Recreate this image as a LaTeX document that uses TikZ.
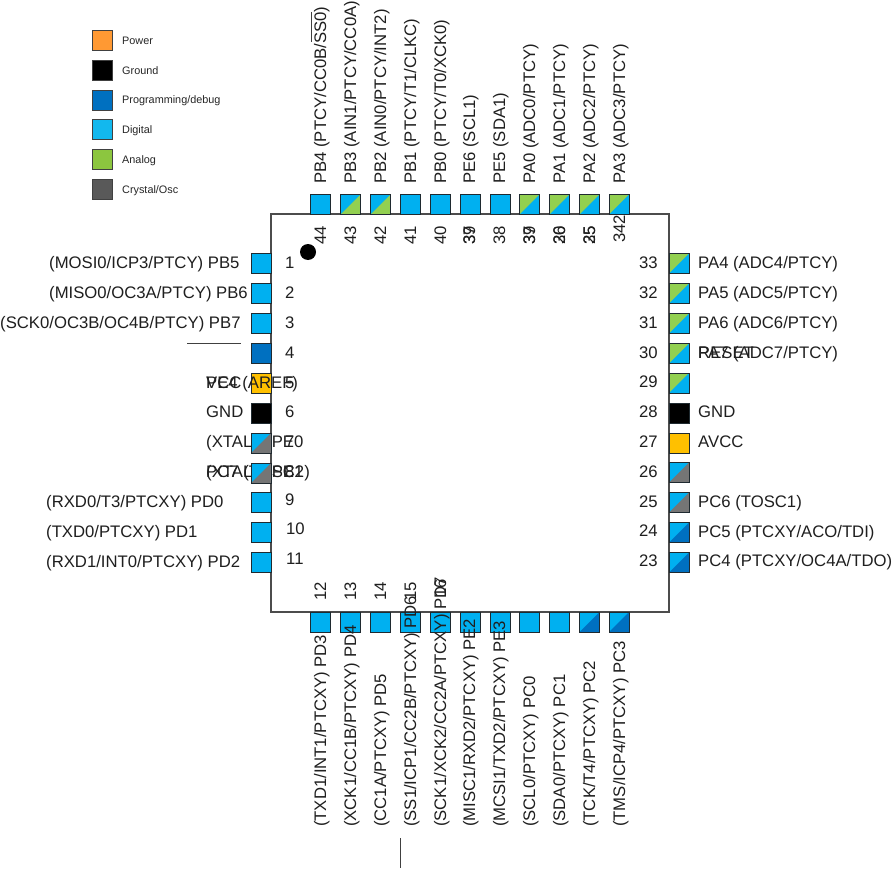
\documentclass[tikz,border=0pt]{standalone}
\usepackage{fontspec}
\setmainfont{Liberation Sans}
\definecolor{cpower}{HTML}{FF9933}
\definecolor{cvcc}{HTML}{FFC000}
\definecolor{cprog}{HTML}{0070C0}
\definecolor{cdig}{HTML}{00B0F0}
\definecolor{cdigl}{HTML}{12B8EE}
\definecolor{cana}{HTML}{92D050}
\definecolor{canal}{HTML}{8CC63F}
\definecolor{cxtal}{HTML}{757575}
\definecolor{cxtall}{HTML}{595959}
\definecolor{cedge}{HTML}{1F2A30}
\tikzset{
  pinbox/.style={draw=cedge,line width=1pt,minimum size=20pt,inner sep=0pt,outer sep=0pt},
  lab/.style={font=\fontsize{16.7}{19}\selectfont,inner sep=0pt,text=black!88,anchor=base west},
  vlab/.style={lab,rotate=90},
  leg/.style={font=\fontsize{10.85}{12}\selectfont,inner sep=0pt,text=black!85,anchor=base west},
  legbox/.style={draw=black!75,line width=1pt,minimum size=20pt,inner sep=0pt,outer sep=0pt},
  rulex/.style={line width=0.8pt,draw=black!75}
}
\newcommand{\pinp}[5]{\node[pinbox,fill=#4,path picture={\fill[#5] (path picture bounding box.south west) -| (path picture bounding box.north east) -- cycle;}] (#1) at (#2,#3) {};}
\newcommand{\hl}[4]{\node[lab] (#1) at (#2,#3+5.7) {#4};}
\newcommand{\vl}[4]{\node[vlab] (#1) at (#2+6,#3) {#4};}
\begin{document}
\begin{tikzpicture}[x=1pt,y=-1pt]
\useasboundingbox (0,0) rectangle (893,893);
\fill[white] (0,0) rectangle (893,893);
% legend
\foreach \n/\yy/\c/\t in {a/40.6/cpower/Power,b/70.4/black/Ground,c/100.2/cprog/Programming\slash debug,d/130/cdigl/Digital,e/159.8/canal/Analog,f/189.6/cxtall/Crystal\slash Osc}{
  \node[legbox,fill=\c] (leg\n) at (102,\yy) {};
  \node[leg] (legt\n) at (122,\yy+3.8) {\t};
}
% chip
\node[draw=black!70,line width=1.2pt,minimum size=398pt,inner sep=0pt,outer sep=0pt] (chip) at (470,413) {};
% labels hidden by pins
\hl{l7}{206}{442}{(XTAL1) PE0}
\hl{l8a}{206}{472}{(XTAL2) PE1}
\hl{l8b}{206}{472}{PC7 (TOSC2)}
% pins left
\pinp{p1}{261}{263.5}{cdig}{cdig}
\pinp{p2}{261}{293.5}{cdig}{cdig}
\pinp{p3}{261}{323.5}{cdig}{cdig}
\pinp{p4}{261}{353}{cprog}{cprog}
\pinp{p5}{261}{383}{cvcc}{cvcc}
\pinp{p6}{261}{413}{black}{black}
\pinp{p7}{261}{443}{cdig}{cxtal}
\pinp{p8}{261}{473}{cdig}{cxtal}
\pinp{p9}{261}{502.5}{cdig}{cdig}
\pinp{p10}{261}{532.5}{cdig}{cdig}
\pinp{p11}{261}{562.5}{cdig}{cdig}
% pins bottom
\pinp{p12}{320.5}{622}{cdig}{cdig}
\pinp{p13}{350.5}{622}{cdig}{cdig}
\pinp{p14}{380.5}{622}{cdig}{cdig}
\pinp{p15}{410.5}{622}{cdig}{cdig}
\pinp{p16}{440}{622}{cdig}{cdig}
\pinp{p17}{470}{622}{cdig}{cdig}
\pinp{p18}{500}{622}{cdig}{cdig}
\pinp{p19}{529.5}{622}{cdig}{cdig}
\pinp{p20}{559.5}{622}{cdig}{cdig}
\pinp{p21}{589.5}{622}{cdig}{cprog}
\pinp{p22}{619}{622}{cdig}{cprog}
% pins right
\pinp{p23}{679}{562.5}{cdig}{cprog}
\pinp{p24}{679}{532.5}{cdig}{cprog}
\pinp{p25}{679}{502.5}{cdig}{cxtal}
\pinp{p26}{679}{472.5}{cdig}{cxtal}
\pinp{p27}{679}{443}{cvcc}{cvcc}
\pinp{p28}{679}{413}{black}{black}
\pinp{p29}{679}{383}{cana}{cdig}
\pinp{p30}{679}{353.5}{cana}{cdig}
\pinp{p31}{679}{323.5}{cana}{cdig}
\pinp{p32}{679}{293.5}{cana}{cdig}
\pinp{p33}{679}{263.5}{cana}{cdig}
% pins top
\pinp{p34}{619}{204.5}{cana}{cdig}
\pinp{p35}{589.5}{204.5}{cana}{cdig}
\pinp{p36}{559.5}{204.5}{cana}{cdig}
\pinp{p37}{529.5}{204.5}{cana}{cdig}
\pinp{p38}{500}{204.5}{cdig}{cdig}
\pinp{p39}{470}{204.5}{cdig}{cdig}
\pinp{p40}{440}{204.5}{cdig}{cdig}
\pinp{p41}{410.5}{204.5}{cdig}{cdig}
\pinp{p42}{380.5}{204.5}{cdig}{cana}
\pinp{p43}{350.5}{204.5}{cdig}{cana}
\pinp{p44}{320.5}{204.5}{cdig}{cdig}
% index dot
\node[circle,fill=black,minimum size=16pt,inner sep=0pt] (dot) at (308,252) {};
% left labels
\hl{l1}{49}{263}{(MOSI0/ICP3/PTCY) PB5}
\hl{l2}{49}{293}{(MISO0/OC3A/PTCY) PB6}
\hl{l3}{0}{323}{(SCK0/OC3B/OC4B/PTCY) PB7}
\hl{l5a}{206}{383}{VCC}
\hl{l5b}{206}{383}{PE4 (AREF)}
\hl{l6}{206}{412}{GND}
\hl{l9}{46}{502}{(RXD0/T3/PTCXY) PD0}
\hl{l10}{46}{532}{(TXD0/PTCXY) PD1}
\hl{l11}{46}{562}{(RXD1/INT0/PTCXY) PD2}
% right labels
\hl{r33}{698}{263}{PA4 (ADC4/PTCY)}
\hl{r32}{698}{293}{PA5 (ADC5/PTCY)}
\hl{r31}{698}{323}{PA6 (ADC6/PTCY)}
\hl{r30a}{698}{353}{PA7 (ADC7/PTCY)}
\hl{r30b}{698}{353}{RESET}
\hl{r28}{698}{412}{GND}
\hl{r27}{698}{442}{AVCC}
\hl{r25}{698}{502}{PC6 (TOSC1)}
\hl{r24}{698}{532}{PC5 (PTCXY/ACO/TDI)}
\hl{r23}{698}{561}{PC4 (PTCXY/OC4A/TDO)}
% top labels
\vl{t44}{320}{184}{PB4 (PTCY/CC0B/SS0)}
\vl{t43}{350}{184}{PB3 (AIN1/PTCY/CC0A)}
\vl{t42}{380}{184}{PB2 (AIN0/PTCY/INT2)}
\vl{t41}{410}{184}{PB1 (PTCY/T1/CLKC)}
\vl{t40}{440}{184}{PB0 (PTCY/T0/XCK0)}
\vl{t39}{469}{184}{PE6 (SCL1)}
\vl{t38}{499}{184}{PE5 (SDA1)}
\vl{t37}{529}{184}{PA0 (ADC0/PTCY)}
\vl{t36}{559}{184}{PA1 (ADC1/PTCY)}
\vl{t35}{589}{184}{PA2 (ADC2/PTCY)}
\vl{t34}{619}{184}{PA3 (ADC3/PTCY)}
% bottom labels
\vl{b12}{320}{827}{(TXD1/INT1/PTCXY) PD3}
\vl{b13}{350}{827}{(XCK1/CC1B/PTCXY) PD4}
\vl{b14}{380}{827}{(CC1A/PTCXY) PD5}
\vl{b15}{410}{827}{(SS1/ICP1/CC2B/PTCXY) PD6}
\vl{b16}{440}{827}{(SCK1/XCK2/CC2A/PTCXY) PD7}
\vl{b17}{469}{827}{(MISC1/RXD2/PTCXY) PE2}
\vl{b18}{499}{827}{(MCSI1/TXD2/PTCXY) PE3}
\vl{b19}{529}{827}{(SCL0/PTCXY) PC0}
\vl{b20}{559}{827}{(SDA0/PTCXY) PC1}
\vl{b21}{589}{827}{(TCK/T4/PTCXY) PC2}
\vl{b22}{619}{827}{(TMS/ICP4/PTCXY) PC3}
% pin numbers, left
\hl{n1}{285}{263}{1}
\hl{n2}{285}{293}{2}
\hl{n3}{285}{323}{3}
\hl{n4}{285}{353}{4}
\hl{n5}{285}{383}{5}
\hl{n6}{285}{412}{6}
\hl{n7}{285}{442}{7}
\hl{n8}{285}{472}{8}
\hl{n9}{285}{500}{9}
\hl{n10}{286}{529}{10}
\hl{n11}{286}{559}{11}
% pin numbers, right
\hl{n33}{639}{263}{33}
\hl{n32}{639}{293}{32}
\hl{n31}{639}{323}{31}
\hl{n30}{639}{353}{30}
\hl{n29}{639}{382}{29}
\hl{n28}{639}{412}{28}
\hl{n27}{639}{442}{27}
\hl{n26}{639}{472}{26}
\hl{n25}{639}{502}{25}
\hl{n24}{639}{531}{24}
\hl{n23}{639}{561}{23}
% pin numbers, top
\vl{n44}{320}{245}{44}
\vl{n43}{350}{245}{43}
\vl{n42}{380}{245}{42}
\vl{n41}{410}{245}{41}
\vl{n40}{440}{245}{40}
\vl{n39a}{469}{245}{39}
\vl{n39b}{469}{245}{37}
\vl{n38}{499}{245}{38}
\vl{n37a}{529}{245}{37}
\vl{n37b}{529}{245}{39}
\vl{n36a}{559}{245}{36}
\vl{n36b}{559}{245}{20}
\vl{n35a}{589}{245}{35}
\vl{n35b}{589}{245}{25}
\vl{n34}{619}{243}{342}
% pin numbers, bottom
\vl{n12}{320}{601}{12}
\vl{n13}{350}{601}{13}
\vl{n14}{380}{601}{14}
\vl{n15}{410}{601}{15}
\vl{n16}{440}{598}{16}
% overlines
\coordinate (a1) at (187,343); \coordinate (a2) at (241,343);
\coordinate (c1) at (311,12); \coordinate (c2) at (311,42);
\coordinate (d1) at (400.5,838); \coordinate (d2) at (400.5,868);
\draw[rulex] (a1) -- (a2);
\draw[rulex] (c1) -- (c2);
\draw[rulex] (d1) -- (d2);
\end{tikzpicture}
\end{document}
